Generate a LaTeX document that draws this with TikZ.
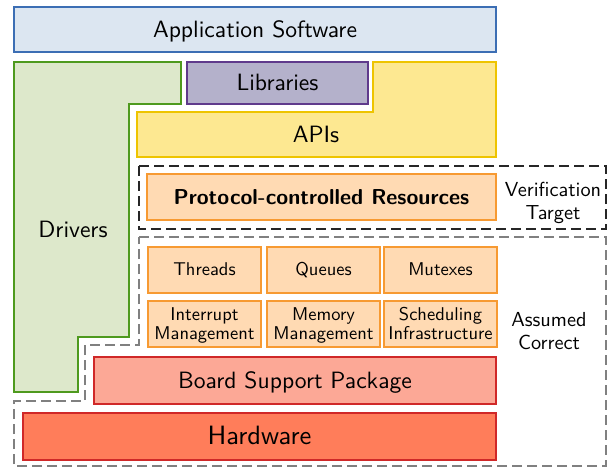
\documentclass[tikz,border=0pt]{standalone}
\usetikzlibrary{fit}
\definecolor{appfill}{HTML}{DCE6F1}
\definecolor{appline}{HTML}{3C6EB4}
\definecolor{drvfill}{HTML}{DDE8CB}
\definecolor{drvline}{HTML}{4E9A1E}
\definecolor{libfill}{HTML}{B4B1CB}
\definecolor{libline}{HTML}{5F3A8C}
\definecolor{apifill}{HTML}{FDE891}
\definecolor{apiline}{HTML}{EEC400}
\definecolor{orfill}{HTML}{FFDAB3}
\definecolor{orline}{HTML}{F79A32}
\definecolor{bspfill}{HTML}{FCA896}
\definecolor{hwfill}{HTML}{FF7D5A}
\definecolor{redline}{HTML}{D02828}
\definecolor{dgray}{HTML}{808080}
\newcommand{\sctxt}[3]{\scalebox{#1}{\fontsize{10}{#2}\selectfont\begin{tabular}{@{}c@{}}#3\end{tabular}}}
\begin{document}
\begin{tikzpicture}[x=1pt,y=-1pt,font=\sffamily,
  layer/.style={draw,line width=2.3pt,inner sep=0pt,align=center},
  txt/.style={yshift=-2pt},
  dashbox/.style={line width=2.2pt,dash pattern=on 10pt off 5pt}]
\useasboundingbox (0,0) rectangle (616,468);
% Application
\node[layer,fill=appfill,draw=appline,fit={(14,7) (496,52)}] (app) {};
\node[txt] (appt) at (app.center) {\sctxt{2.36}{12}{Application Software}};
% Drivers
\draw[line width=2.3pt,draw=drvline,fill=drvfill]
  (14,62) -- (181,62) -- (181,104) -- (129,104) -- (129,337) -- (78,337) -- (78,392) -- (14,392) -- cycle;
\node[txt] (drv) at (73,230) {\sctxt{2.36}{12}{Drivers}};
% Libraries
\node[layer,fill=libfill,draw=libline,fit={(187,62) (368,104)}] (lib) {};
\node[txt] (libt) at (lib.center) {\sctxt{2.36}{12}{Libraries}};
% APIs
\draw[line width=2.3pt,draw=apiline,fill=apifill]
  (137,112) -- (373,112) -- (373,62) -- (496,62) -- (496,157) -- (137,157) -- cycle;
\node[txt] (api) at (316,134.5) {\sctxt{2.36}{12}{APIs}};
% Verification target
\draw[dashbox,draw=black!85] (139,166) rectangle (606,229);
\node[layer,fill=orfill,draw=orline,fit={(147,174) (496,220)}] (pcr) {};
\node[txt] (pcrt) at (pcr.center) {\sctxt{2.16}{12}{\bfseries Protocol-controlled Resources}};
\node[txt] (vt) at (553,201) {\sctxt{2.03}{11.3}{Verification\\Target}};
% Assumed correct
\draw[dashbox,draw=dgray]
  (139,237) -- (606,237) -- (606,466) -- (14,466) -- (14,401) -- (85,401) -- (85,345) -- (139,345) -- cycle;
\node[layer,fill=orfill,draw=orline,fit={(148,247) (261,293)}] (thr) {};
\node[txt] (thrt) at (thr.center) {\sctxt{1.85}{10.3}{Threads}};
\node[layer,fill=orfill,draw=orline,fit={(267,247) (380,293)}] (que) {};
\node[txt] (quet) at (que.center) {\sctxt{1.85}{10.3}{Queues}};
\node[layer,fill=orfill,draw=orline,fit={(384,247) (497,293)}] (mut) {};
\node[txt] (mutt) at (mut.center) {\sctxt{1.85}{10.3}{Mutexes}};
\node[layer,fill=orfill,draw=orline,fit={(148,301) (261,347)}] (irq) {};
\node[txt] (irqt) at (irq.center) {\sctxt{1.85}{10.3}{Interrupt\\Management}};
\node[layer,fill=orfill,draw=orline,fit={(267,301) (380,347)}] (mem) {};
\node[txt] (memt) at (mem.center) {\sctxt{1.85}{10.3}{Memory\\Management}};
\node[layer,fill=orfill,draw=orline,fit={(384,301) (497,347)}] (sch) {};
\node[txt] (scht) at (sch.center) {\sctxt{1.85}{10.3}{Scheduling\\Infrastructure}};
\node[txt] (ac) at (549,331) {\sctxt{2.03}{11.3}{Assumed\\Correct}};
% BSP and hardware
\node[layer,fill=bspfill,draw=redline,fit={(94,357) (496,404)}] (bsp) {};
\node[txt] (bspt) at (bsp.center) {\sctxt{2.36}{12}{Board Support Package}};
\node[layer,fill=hwfill,draw=redline,fit={(23,413) (496,460)}] (hw) {};
\node[txt] (hwt) at (hw.center) {\sctxt{2.65}{12}{Hardware}};
\end{tikzpicture}
\end{document}
